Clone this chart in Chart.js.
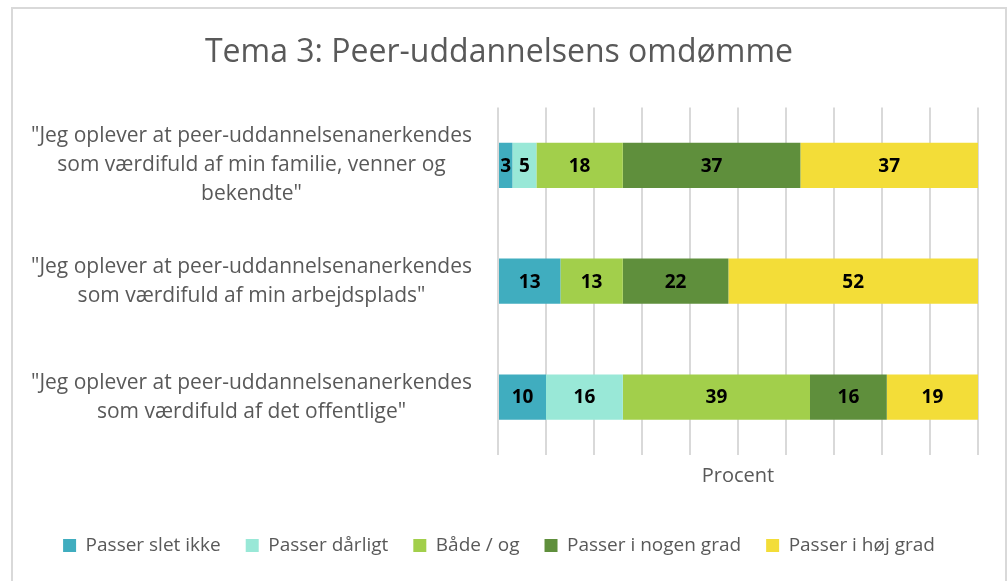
<!DOCTYPE html>
<html>
<head>
<meta charset="utf-8">
<script src="https://cdn.jsdelivr.net/npm/chart.js@4"></script>
<style>
  body { margin: 0; background: #fff; }
  #wrap { position: relative; width: 1008px; height: 581px; overflow: hidden; }
  #frame { position: absolute; left: 11px; top: 7px; width: 992px; height: 600px; border: 2px solid #d9d9d9; }
  canvas { position: absolute; left: 0; top: 0; }
</style>
</head>
<body>
<div id="wrap">
  <div id="frame"></div>
  <canvas id="chart" width="1008" height="581"></canvas>
</div>
<script>
// kategorier (y-akse), en linje pr. element
var labels = [
    ['"Jeg oplever at peer-uddannelsenanerkendes', 'som værdifuld af min familie, venner og', 'bekendte"'],
    ['"Jeg oplever at peer-uddannelsenanerkendes', 'som værdifuld af min arbejdsplads"'],
    ['"Jeg oplever at peer-uddannelsenanerkendes', 'som værdifuld af det offentlige"']
];

// serier
var series_names = ['Passer slet ikke', 'Passer dårligt', 'Både / og', 'Passer i nogen grad', 'Passer i høj grad'];
var slet_ikke = [3, 13, 10];
var daarligt = [5, 0, 16];
var baade_og = [18, 13, 39];
var nogen_grad = [37, 22, 16];
var hoej_grad = [37, 52, 19];

var colors = ['#40adbf', '#99e8d7', '#a2cf4b', '#5f8f3c', '#f3dd38'];
var all_values = [slet_ikke, daarligt, baade_og, nogen_grad, hoej_grad];

var font_name = '"Open Sans", Lato, sans-serif';
var grey = '#595959';

// tal midt i hver bar
var barLabels = {
    id: 'barLabels',
    afterDatasetsDraw: function (chart) {
        var ctx = chart.ctx;
        ctx.save();
        ctx.font = 'bold 19px ' + font_name;
        ctx.fillStyle = '#000';
        ctx.textAlign = 'center';
        ctx.textBaseline = 'middle';
        chart.data.datasets.forEach(function (ds, i) {
            var meta = chart.getDatasetMeta(i);
            meta.data.forEach(function (bar, j) {
                var v = ds.data[j];
                if (!v) return;
                var p = bar.getCenterPoint();
                ctx.fillText(v, p.x, p.y + 1);
            });
        });
        ctx.restore();
    }
};

var datasets = [];
for (let i = 0; i < series_names.length; i++) {
    datasets.push({
        label: series_names[i],
        data: all_values[i],
        backgroundColor: colors[i],
        borderWidth: 0,
        barPercentage: 0.39,
        categoryPercentage: 1
    });
}

let context = document.querySelector('#chart').getContext('2d');
new Chart(context, {
    type: 'bar',
    data: {
        labels: labels,
        datasets: datasets
    },
    plugins: [barLabels],
    options: {
        indexAxis: 'y',
        responsive: false,
        animation: false,
        layout: { padding: { left: 20, right: 30, top: 34, bottom: 16 } },
        scales: {
            x: {
                stacked: true,
                min: 0,
                max: 100,
                ticks: { display: false, stepSize: 10 },
                grid: { color: '#d9d9d9', lineWidth: 2, drawTicks: false },
                border: { display: false },
                title: {
                    display: true,
                    text: 'Procent',
                    color: grey,
                    font: { family: font_name, size: 20 },
                    padding: { top: 9, bottom: 23 }
                }
            },
            y: {
                stacked: true,
                grid: { display: false },
                border: { display: false },
                ticks: {
                    color: grey,
                    font: { family: font_name, size: 21, lineHeight: 1.38 },
                    crossAlign: 'center',
                    padding: 18
                },
                afterFit: function (scale) { scale.width = 478; }
            }
        },
        plugins: {
            title: {
                display: true,
                text: 'Tema 3: Peer-uddannelsens omdømme',
                color: grey,
                font: { family: font_name, size: 32, weight: 'normal' },
                padding: { top: 0, bottom: 35 }
            },
            legend: {
                position: 'bottom',
                labels: {
                    color: grey,
                    font: { family: font_name, size: 19 },
                    boxWidth: 13,
                    boxHeight: 13,
                    padding: 25
                }
            },
            tooltip: { enabled: false }
        }
    }
});
</script>
</body>
</html>
